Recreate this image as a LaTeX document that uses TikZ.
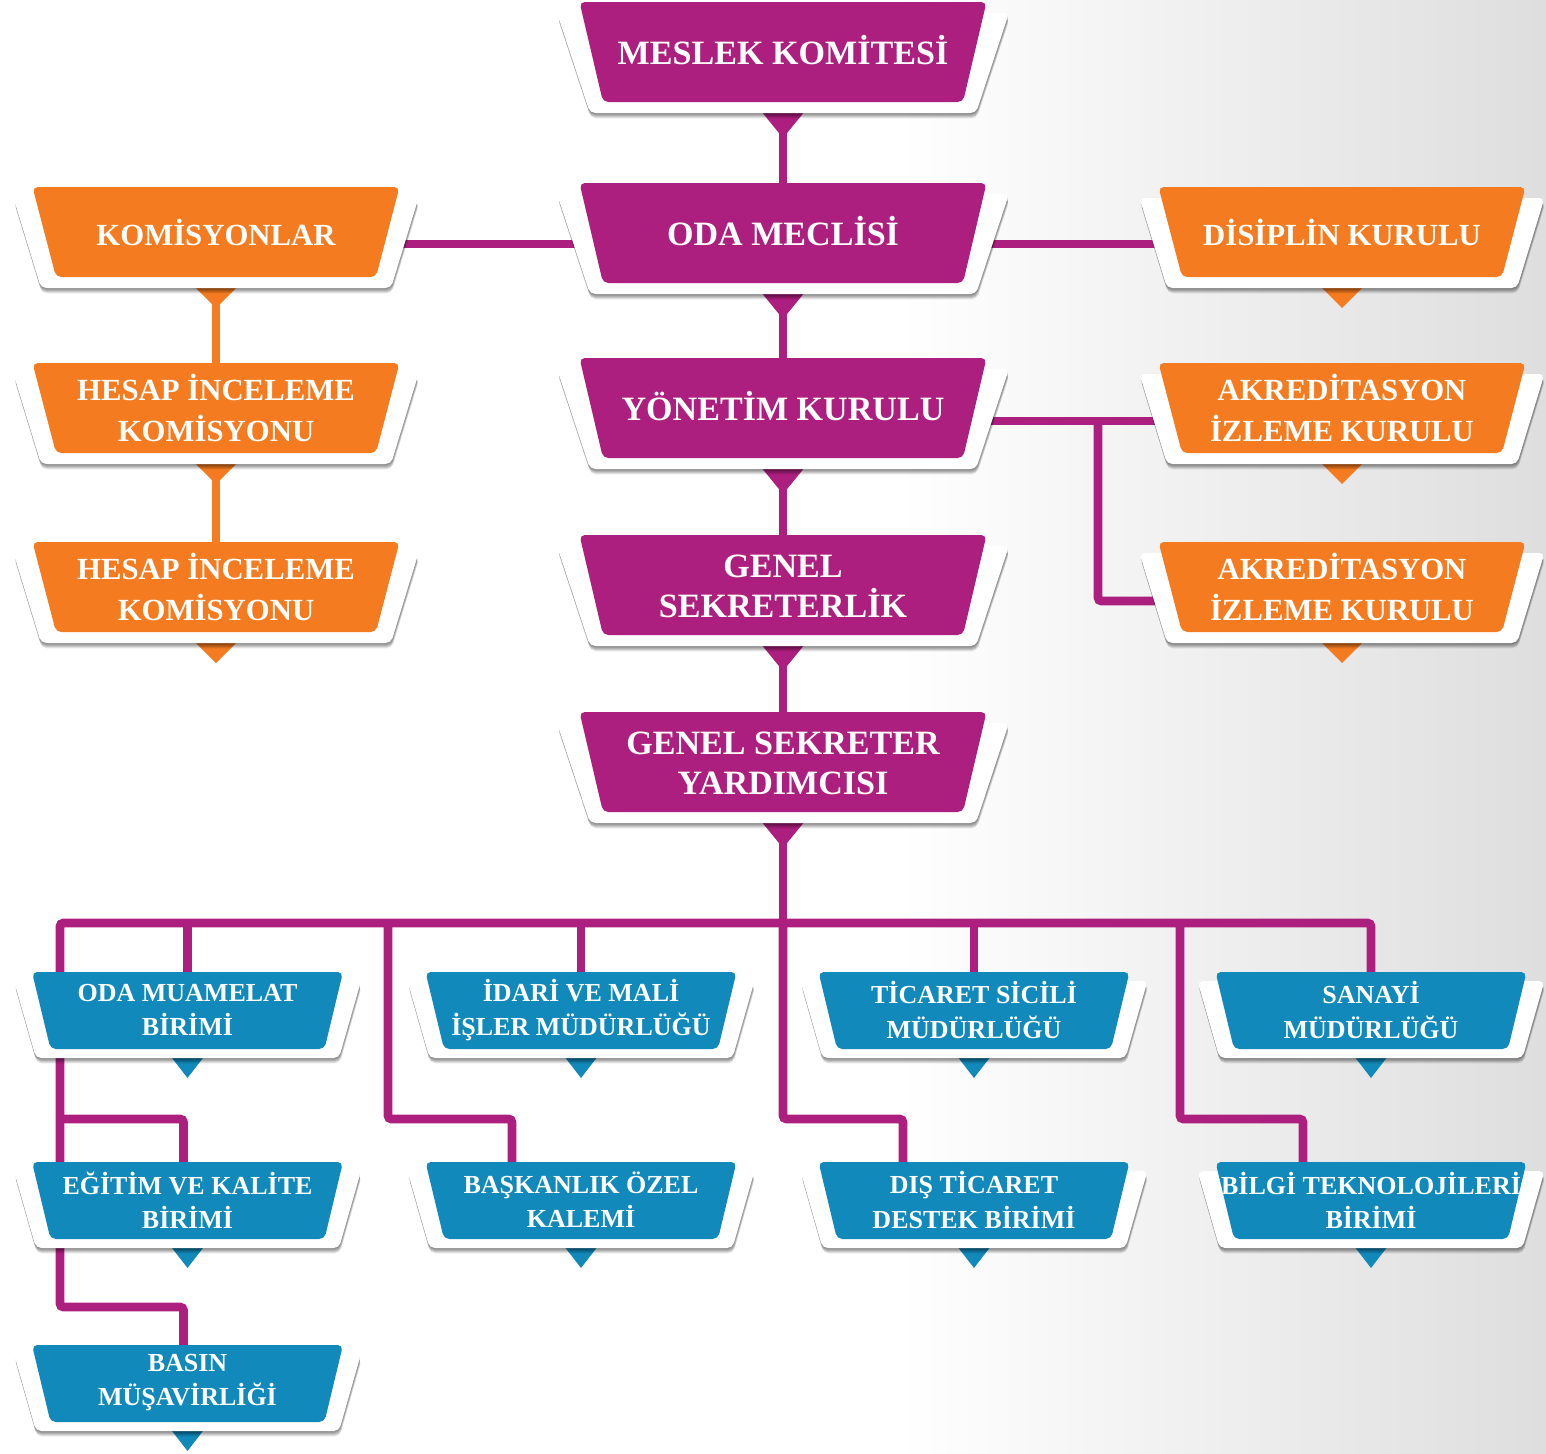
\documentclass[tikz,border=0pt]{standalone}
\usepackage{fontspec}
\setmainfont{Liberation Serif}
\usetikzlibrary{calc}
\definecolor{pcol}{RGB}{173,31,126}
\definecolor{ocol}{RGB}{244,123,32}
\definecolor{bcol}{RGB}{17,137,186}
\pgfdeclarelayer{bg}
\pgfdeclarelayer{lines}
\pgfsetlayers{bg,lines,main}
\tikzset{
  panel/.style={fill=white, rounded corners=3pt},
  shade1/.style={fill=black, fill opacity=0.11, rounded corners=3pt},
  face/.style={fill=#1, rounded corners=3pt},
  ptext/.style={text=white, font=\bfseries\fontsize{19.4pt}{22.8pt}\selectfont, align=center, inner sep=0pt},
  otext/.style={text=white, font=\bfseries\fontsize{17.5pt}{23.3pt}\selectfont, align=center, inner sep=0pt},
  btext/.style={text=white, font=\bfseries\fontsize{14.8pt}{19.4pt}\selectfont, align=center, inner sep=0pt},
  pline/.style={draw=pcol, line width=5pt, rounded corners=2pt},
  oline/.style={draw=ocol, line width=5pt},
}
% panel with soft drop shadow: cx, ytop, top half, bottom half, bottom y
\newcommand\panelshape[5]{%
  \foreach \s in {0.6,1.2,1.8,2.4,3.0}{%
    \path[shade1, xshift=0.15*\s pt, yshift=-\s pt] ({#1-#3},{#2}) -- ({#1+#3},{#2}) -- ({#1+#4},{#5}) -- ({#1-#4},{#5}) -- cycle;
  }
  \path[panel] ({#1-#3},{#2}) -- ({#1+#3},{#2}) -- ({#1+#4},{#5}) -- ({#1-#4},{#5}) -- cycle;
}
% purple box: [text offset], name, cx, ytop, text
\newcommand\pbox[5][48]{%
  \fill[pcol] ({#3-22},{#4+109}) -- ({#3+22},{#4+109}) -- (#3,{#4+136}) -- cycle;
  \panelshape{#3}{#4+11}{226}{193}{#4+111}
  \path[face=pcol] ({#3-203.5},{#4}) -- ({#3+203.5},{#4}) -- ({#3+180},{#4+100}) -- ({#3-180},{#4+100}) -- cycle;
  \node[ptext] (#2) at (#3,{#4+#1}) {#5};
}
% orange box
\newcommand\obox[4]{%
  \fill[ocol] ({#2-22},{#3+99}) -- ({#2+22},{#3+99}) -- (#2,{#3+121}) -- cycle;
  \panelshape{#2}{#3+11}{202.5}{175}{#3+101}
  \path[face=ocol] ({#2-183.5},{#3}) -- ({#2+183.5},{#3}) -- ({#2+160},{#3+90}) -- ({#2-160},{#3+90}) -- cycle;
  \node[otext] (#1) at (#2,{#3+45}) {#4};
}
% blue box
\newcommand\bbox[4]{%
  \fill[bcol] ({#2-17},{#3+84}) -- ({#2+17},{#3+84}) -- (#2,{#3+106}) -- cycle;
  \panelshape{#2}{#3+9}{173.5}{151.5}{#3+86}
  \path[face=bcol] ({#2-155.5},{#3}) -- ({#2+155.5},{#3}) -- ({#2+137},{#3+77}) -- ({#2-137},{#3+77}) -- cycle;
  \node[btext] (#1) at (#2,{#3+38}) {#4};
}
\begin{document}
\begin{tikzpicture}[x=0.02cm,y=-0.02cm]
\useasboundingbox (0,0) rectangle (1546,1454);
\begin{pgfonlayer}{bg}
  \fill[white] (0,0) rectangle (1546,1454);
  \shade[left color=white, right color=black!13] (900,0) rectangle (1546,1454);
\end{pgfonlayer}

% central column
\pbox{meslek}{783}{2}{MESLEK KOMİTESİ}
\pbox{meclis}{783}{183}{ODA MECLİSİ}
\pbox{yonetim}{783}{358}{YÖNETİM KURULU}
\pbox[51]{genel}{783}{535}{GENEL\\SEKRETERLİK}
\pbox[51]{yrd}{783}{712}{GENEL SEKRETER\\YARDIMCISI}

% left column
\obox{komis}{216}{187}{KOMİSYONLAR}
\obox{hesapA}{216}{363}{HESAP İNCELEME\\KOMİSYONU}
\obox{hesapB}{216}{542}{HESAP İNCELEME\\KOMİSYONU}

% right column
\obox{disiplin}{1342}{187}{DİSİPLİN KURULU}
\obox{akredA}{1342}{363}{AKREDİTASYON\\İZLEME KURULU}
\obox{akredB}{1342}{542}{AKREDİTASYON\\İZLEME KURULU}

% blue rows
\bbox{muam}{187.5}{972}{ODA MUAMELAT\\BİRİMİ}
\bbox{idari}{581}{972}{İDARİ VE MALİ\\İŞLER MÜDÜRLÜĞÜ}
\bbox{ticaret}{974}{972}{TİCARET SİCİLİ\\MÜDÜRLÜĞÜ}
\bbox{sanayi}{1371}{972}{SANAYİ\\MÜDÜRLÜĞÜ}
\bbox{egitim}{187.5}{1162}{EĞİTİM VE KALİTE\\BİRİMİ}
\bbox{bask}{581}{1162}{BAŞKANLIK ÖZEL\\KALEMİ}
\bbox{dis}{974}{1162}{DIŞ TİCARET\\DESTEK BİRİMİ}
\bbox{bilgi}{1371}{1162}{BİLGİ TEKNOLOJİLERİ\\BİRİMİ}
\bbox{basin}{187.5}{1345}{BASIN\\MÜŞAVİRLİĞİ}

\begin{pgfonlayer}{lines}
  \coordinate (yA) at (0,244);
  \coordinate (yB) at (0,421);
  \coordinate (yC) at (0,601);
  \coordinate (xA) at (1098,0);
  \coordinate (bus) at (0,923);
  \coordinate (r2) at (0,1119);
  \coordinate (r3) at (0,1307);
  \coordinate (xL) at (60,0);
  \coordinate (xM) at (388,0);
  \coordinate (xR) at (1180,0);
  % central spine
  \draw[pline] (meslek.center) -- (meclis.center);
  \draw[pline] (meclis.center) -- (yonetim.center);
  \draw[pline] (yonetim.center) -- (genel.center);
  \draw[pline] (genel.center) -- (yrd.center);
  \draw[pline] (yrd.center) -- (yrd |- bus);
  % side links
  \draw[pline] (komis |- yA) -- (disiplin |- yA);
  \draw[pline] (yonetim |- yB) -- (akredA |- yB);
  \draw[pline] (xA |- yB) -- (xA |- yC) -- (akredB |- yC);
  \draw[oline] (komis.center) -- (hesapA.center);
  \draw[oline] (hesapA.center) -- (hesapB.center);
  % bus and branches
  \draw[pline] (sanayi.center) -- (sanayi |- bus) -- (xL |- bus) -- (xL |- r3)
     -- ([xshift=-0.08cm]basin |- r3) -- ([xshift=-0.08cm]basin.center);
  \draw[pline] (xL |- r2) -- ([xshift=-0.08cm]egitim |- r2) -- ([xshift=-0.08cm]egitim.center);
  \draw[pline] (muam |- bus) -- (muam.center);
  \draw[pline] (idari |- bus) -- (idari.center);
  \draw[pline] (ticaret |- bus) -- (ticaret.center);
  \draw[pline] (xM |- bus) -- (xM |- r2) -- ([xshift=-1.38cm]bask |- r2) -- ([xshift=-1.38cm]bask.center);
  \draw[pline] (yrd |- bus) -- (yrd |- r2) -- ([xshift=-1.42cm]dis |- r2) -- ([xshift=-1.42cm]dis.center);
  \draw[pline] (xR |- bus) -- (xR |- r2) -- ([xshift=-1.36cm]bilgi |- r2) -- ([xshift=-1.36cm]bilgi.center);
\end{pgfonlayer}
\end{tikzpicture}
\end{document}
